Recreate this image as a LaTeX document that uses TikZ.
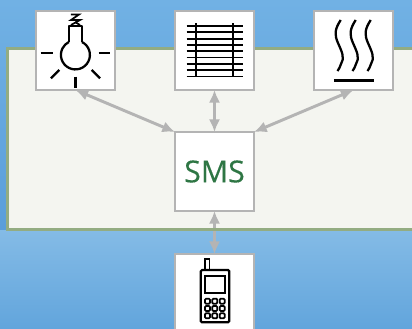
\documentclass[tikz,border=0pt]{standalone}
\usepackage{fontspec}
\setmainfont{Open Sans}
\newfontfamily\smsfont[FakeBold=0.25]{Open Sans}
\usetikzlibrary{arrows.meta,calc}
\definecolor{bgA}{RGB}{113,177,228}
\definecolor{bgD}{RGB}{90,158,218}
\definecolor{bgB}{RGB}{132,187,230}
\definecolor{bgC}{RGB}{98,165,220}
\definecolor{panelfill}{RGB}{244,245,240}
\definecolor{panelline}{RGB}{147,172,130}
\definecolor{boxline}{RGB}{180,180,180}
\definecolor{smsgreen}{RGB}{46,118,68}
\tikzset{
  x=0.75pt,y=-0.75pt,
  iconbox/.style={draw=boxline,fill=white,line width=1.8pt,minimum width=59.25pt,minimum height=59.25pt,inner sep=0pt,outer sep=0pt,anchor=north west},
  link/.style={draw=boxline,line width=2.2pt,{Latex[length=9.5pt,width=8.5pt]}-{Latex[length=9.5pt,width=8.5pt]}},
  icon/.style={draw=black,line width=1.7pt},
  slat/.style={draw=black,line width=1.35pt},
  thin icon/.style={draw=black,line width=1.3pt},
  heavy icon/.style={draw=black,line width=2.4pt}
}
\begin{document}
\begin{tikzpicture}
\useasboundingbox (0,0) rectangle (412,329);
\clip (0,0) rectangle (412,329);
% background
\fill[top color=bgA,bottom color=bgD] (0,0) rectangle (412,230);
\fill[top color=bgB,bottom color=bgC] (0,230) rectangle (412,329);
% panel
\draw[fill=panelfill,draw=panelline,line width=2.2pt] (7.5,48.5) rectangle (430,229.5);
% boxes
\node[iconbox] (lamp) at (36,11) {};
\node[iconbox] (blinds) at (175,11) {};
\node[iconbox] (heat) at (314,11) {};
\node[iconbox,font=\smsfont\fontsize{22.7pt}{24pt}\selectfont,text=smsgreen] (sms) at (175,132) {SMS};
\node[iconbox,minimum height=90pt] (phone) at (175,254) {};
% connectors
\draw[link] (lamp.south) -- (sms.north west);
\draw[link] (blinds.south) -- (sms.north);
\draw[link] (heat.south) -- (sms.north east);
\draw[link] (sms.south) -- (phone.north);
\draw[panelline,line width=2.2pt] (205,229.5) -- (225,229.5);
% lamp icon
\draw[icon,line join=round] (68.8,42) -- (68.8,26) -- (82,26) -- (82,42);
\draw[icon] (82,42) arc[start angle=-63,end angle=243,radius=14.5];
\draw[thin icon] (71,14.5) -- (79,14.5) -- (71,20) -- (80,20) -- (71,25);
\draw[thin icon] (75,22) -- (80,25);
\draw[icon] (40.7,53) -- (52.7,53);
\draw[icon] (98.7,53) -- (110.3,53);
\draw[icon] (75.4,76.7) -- (75.4,87.7);
\draw[icon] (51,78.3) -- (59.3,70);
\draw[icon] (91.7,70) -- (100,78.3);
% blinds icon
\foreach \yy in {26,32.3,38.6,44.9,51.2,57.5,63.8,70.1,76.4}
  \draw[slat] (186.7,\yy) -- (243.3,\yy);
\draw[slat] (196,23) -- (196,77);
\draw[slat] (233.4,23) -- (233.4,77);
% heat icon
\foreach \dx in {0,15,30}{
  \draw[icon,xshift=\dx*0.75pt] (340.7,20) .. controls (335,29) and (334,34) .. (338,43) .. controls (342,52) and (345,58) .. (341,64) .. controls (340,67) and (339,69) .. (337.5,71);
}
\draw[heavy icon] (334,80.3) -- (374,80.3);
% phone icon
\draw[thin icon,fill=white] (205.2,270) rectangle (209.4,259.2);
\draw[icon,rounded corners=1pt] (200.8,270) rectangle (229.3,322.3);
\draw[thin icon] (205,275.7) rectangle (224.7,292.7);
\foreach \yy in {298.7,306,313.3}
  \foreach \xx in {205,212.3,219.7}
    \draw[thin icon,rounded corners=0.8pt] (\xx,\yy) rectangle ++(5,5);
\end{tikzpicture}
\end{document}
